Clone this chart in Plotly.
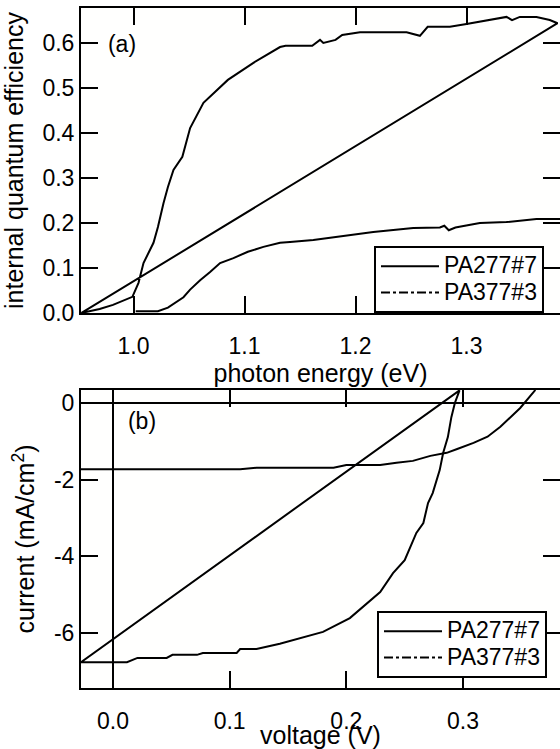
import plotly.graph_objects as go

# ---------- data ----------
# panel (a): internal quantum efficiency vs photon energy
qe277_energy = [0.953, 0.9695, 0.9815, 0.991, 0.999, 1.0045, 1.009, 1.018, 1.022, 1.027, 1.031,
                1.036, 1.044, 1.051, 1.063, 1.085, 1.108, 1.132, 1.137, 1.161, 1.168, 1.171,
                1.182, 1.188, 1.204, 1.246, 1.258, 1.265, 1.285, 1.300, 1.327, 1.336, 1.341,
                1.348, 1.363, 1.375, 1.382, 0.953]
qe277_value = [0.0, 0.009, 0.018, 0.027, 0.036, 0.067, 0.111, 0.156, 0.191, 0.244, 0.28,
               0.318, 0.347, 0.411, 0.467, 0.518, 0.556, 0.591, 0.594, 0.594, 0.607, 0.600,
               0.607, 0.618, 0.624, 0.624, 0.616, 0.636, 0.636, 0.642, 0.653, 0.658, 0.651,
               0.658, 0.658, 0.651, 0.644, 0.0]

qe377_energy = [1.002, 1.022, 1.031, 1.045, 1.051, 1.060, 1.069, 1.078, 1.090, 1.103, 1.117,
                1.132, 1.141, 1.162, 1.216, 1.252, 1.276, 1.280, 1.284, 1.290, 1.312, 1.336,
                1.363, 1.386]
qe377_value = [0.004, 0.004, 0.012, 0.035, 0.052, 0.073, 0.091, 0.111, 0.122, 0.136, 0.147,
               0.156, 0.158, 0.162, 0.180, 0.189, 0.190, 0.194, 0.184, 0.190, 0.200, 0.202,
               0.209, 0.209]

# panel (b): current density vs voltage
iv277_voltage = [-0.0274, 0.012, 0.021, 0.046, 0.051, 0.072, 0.077, 0.106, 0.109, 0.123, 0.143,
                 0.160, 0.180, 0.203, 0.218, 0.229, 0.240, 0.250, 0.260, 0.266, 0.270, 0.274,
                 0.280, 0.283, 0.287, 0.290, 0.293, 0.297, -0.0274]
iv277_current = [-6.76, -6.76, -6.65, -6.65, -6.57, -6.57, -6.52, -6.52, -6.42, -6.42, -6.28,
                 -6.13, -5.97, -5.61, -5.22, -4.93, -4.44, -4.10, -3.39, -3.13, -2.61, -2.35,
                 -1.75, -1.30, -0.89, -0.37, 0.0, 0.33, -6.76]

iv377_voltage = [-0.0274, 0.109, 0.123, 0.189, 0.200, 0.229, 0.243, 0.257, 0.272, 0.286, 0.295,
                 0.309, 0.321, 0.332, 0.349, 0.356, 0.362]
iv377_current = [-1.73, -1.73, -1.69, -1.69, -1.62, -1.62, -1.56, -1.51, -1.38, -1.30, -1.20,
                 -1.04, -0.88, -0.62, -0.13, 0.13, 0.34]

series_names = ["PA277#7", "PA377#3"]
panel_labels = ["(a)", "(b)"]

xa_ticks = [1.0, 1.1, 1.2, 1.3]
ya_ticks = [0.0, 0.1, 0.2, 0.3, 0.4, 0.5, 0.6]
xb_ticks = [0.0, 0.1, 0.2, 0.3]
yb_ticks = [0, -2, -4, -6]

xa_range = [0.9527, 1.3842]
ya_range = [0.0, 0.6778]
xb_range = [-0.0274, 0.3831]
yb_range = [-7.435, 0.339]

# ---------- figure ----------
W, H = 560, 749
FONT = "Liberation Sans, Arial, Helvetica, sans-serif"
TICK = 23
TITLE = 25
LEG = 23
LW = 2

# plot-area pixel boxes (left, right, top, bottom)
box_a = (81, 560, 8, 313)
box_b = (81, 560, 390, 688)


def px_x(p):
    return p / W


def px_y(p):
    return 1 - p / H


def to_data(px, py, box, xr, yr):
    l, r, t, b = box
    return (xr[0] + (px - l) / (r - l) * (xr[1] - xr[0]),
            yr[0] + (b - py) / (b - t) * (yr[1] - yr[0]))


fig = go.Figure()
line = dict(color="black", width=LW)
dashdot = dict(color="black", width=LW, dash="dashdot")


def leg_name(s):
    return f'<span style="font-size:{LEG}px">{s}</span>'


fig.add_trace(go.Scatter(x=qe277_energy, y=qe277_value, mode="lines", line=line,
                         name=leg_name(series_names[0]), xaxis="x", yaxis="y", legend="legend"))
fig.add_trace(go.Scatter(x=qe377_energy, y=qe377_value, mode="lines", line=line,
                         showlegend=False, xaxis="x3", yaxis="y"))
fig.add_trace(go.Scatter(x=qe377_energy[:1], y=qe377_value[:1], mode="lines", line=dashdot,
                         name=leg_name(series_names[1]), xaxis="x", yaxis="y", legend="legend"))

fig.add_trace(go.Scatter(x=iv277_voltage, y=iv277_current, mode="lines", line=line,
                         name=leg_name(series_names[0]), xaxis="x2", yaxis="y2", legend="legend2"))
fig.add_trace(go.Scatter(x=iv377_voltage, y=iv377_current, mode="lines", line=line,
                         showlegend=False, xaxis="x4", yaxis="y2"))
fig.add_trace(go.Scatter(x=iv377_voltage[:1], y=iv377_current[:1], mode="lines", line=dashdot,
                         name=leg_name(series_names[1]), xaxis="x2", yaxis="y2", legend="legend2"))

# panel labels as text marks inside each panel
la = to_data(122, 46, box_a, xa_range, ya_range)
lb = to_data(142, 423, box_b, xb_range, yb_range)
fig.add_trace(go.Scatter(x=[la[0]], y=[la[1]], mode="text", text=[panel_labels[0]],
                         textfont=dict(family=FONT, size=TICK, color="black"),
                         showlegend=False, hoverinfo="skip", xaxis="x", yaxis="y"))
fig.add_trace(go.Scatter(x=[lb[0]], y=[lb[1]], mode="text", text=[panel_labels[1]],
                         textfont=dict(family=FONT, size=TICK, color="black"),
                         showlegend=False, hoverinfo="skip", xaxis="x2", yaxis="y2"))

xdom = [px_x(box_a[0]), 1.0]
ydom_a = [px_y(box_a[3]), px_y(box_a[2])]
ydom_b = [px_y(box_b[3]), px_y(box_b[2])]

frame = dict(ticks="inside", ticklen=17, tickwidth=LW, tickcolor="#000000",
             linecolor="#000000", linewidth=LW, showgrid=False,
             showline=True, mirror="ticks", layer="below traces")
tickfont = dict(family=FONT, size=TICK, color="black")
titlefont = dict(family=FONT, size=TITLE, color="black")
labels_only = dict(ticks="outside", ticklen=12, tickwidth=1, tickcolor="rgba(0,0,0,0)",
                   showline=False, showgrid=False, zeroline=False, tickfont=tickfont)

fig.update_layout(
    width=W, height=H, autosize=False,
    margin=dict(l=0, r=0, t=0, b=0, autoexpand=False),
    paper_bgcolor="white", plot_bgcolor="#fffffe",
    xaxis=dict(domain=xdom, anchor="y", range=xa_range, tickvals=xa_ticks,
               showticklabels=False, zeroline=False, **frame),
    xaxis3=dict(domain=xdom, anchor="y", overlaying="x", side="bottom", range=xa_range,
                tickvals=xa_ticks, ticktext=[f"{v:.1f}" for v in xa_ticks],
                title=dict(text="photon energy (eV)", font=titlefont, standoff=0),
                **labels_only),
    yaxis=dict(domain=ydom_a, anchor="x", range=ya_range,
               tickvals=ya_ticks, ticktext=[f"{v:.1f}" for v in ya_ticks], tickfont=tickfont,
               title=dict(text="internal quantum efficiency", font=titlefont, standoff=12),
               zeroline=False, **frame),
    xaxis2=dict(domain=xdom, anchor="y2", range=xb_range, tickvals=xb_ticks,
                showticklabels=False, zeroline=True, zerolinecolor="#000000",
                zerolinewidth=LW, **frame),
    xaxis4=dict(domain=xdom, anchor="y2", overlaying="x2", side="bottom", range=xb_range,
                tickvals=xb_ticks, ticktext=[f"{v:.1f}" for v in xb_ticks],
                title=dict(text="voltage (V)", font=titlefont, standoff=0),
                **labels_only),
    yaxis2=dict(domain=ydom_b, anchor="x2", range=yb_range,
                tickvals=yb_ticks, ticktext=[str(v) for v in yb_ticks], tickfont=tickfont,
                title=dict(text="current (mA/cm<sup>2</sup>)", font=titlefont, standoff=12),
                zeroline=True, zerolinecolor="#000000", zerolinewidth=LW, **frame),
    legend=dict(x=px_x(374), y=px_y(313), xanchor="left", yanchor="bottom",
                bgcolor="white", bordercolor="black", borderwidth=LW,
                font=dict(family=FONT, size=18, color="black"),
                itemwidth=58, tracegroupgap=0),
    legend2=dict(x=px_x(377), y=px_y(678), xanchor="left", yanchor="bottom",
                 bgcolor="white", bordercolor="black", borderwidth=LW,
                 font=dict(family=FONT, size=18, color="black"),
                 itemwidth=58, tracegroupgap=0),
)

fig.write_html("out.html")
